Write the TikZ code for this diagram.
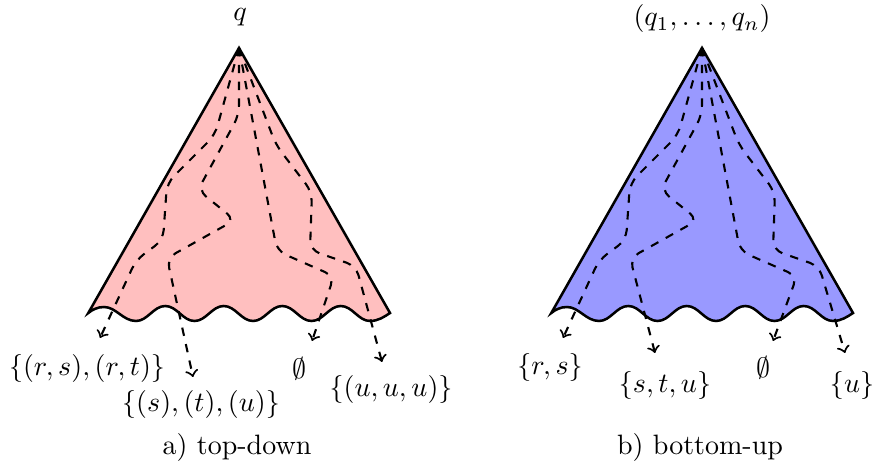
\documentclass[tikz,border=0pt]{standalone}
\begin{document}
\begin{tikzpicture}[x=0.357pt,y=-0.357pt,
  cone/.style={draw=black,line width=0.9pt,line join=miter},
  trace/.style={draw=black,dashed,line width=0.75pt,rounded corners=3.5pt,->},
  lbl/.style={inner sep=0pt}]
\useasboundingbox (0,0) rectangle (877,467);
\newcommand\drawcone[1]{%
  \path[cone,fill=#1] (88.3,313) -- (239,48) -- (390,313)
    .. controls (384,317) and (378,321) .. (370,321)
    .. controls (358.3,321) and (352.5,306) .. (340.75,306)
    .. controls (329,306) and (323.2,321) .. (311.5,321)
    .. controls (299.8,321) and (294,306) .. (282.25,306)
    .. controls (270.5,306) and (264.7,321) .. (253,321)
    .. controls (241.3,321) and (235.5,306) .. (223.75,306)
    .. controls (212,306) and (206.2,321) .. (194.5,321)
    .. controls (182.8,321) and (177,306) .. (165.25,306)
    .. controls (153.5,306) and (147.7,321) .. (136,321)
    .. controls (123,321) and (116,307) .. (104,307)
    .. controls (97,307) and (92,310) .. (88.3,313) -- cycle;}
% ---------- a) top-down ----------
\begin{scope}
  \drawcone{red!25}
  \coordinate (lapex) at (239,48);
  \coordinate (lA) at (100,338);
  \coordinate (lB) at (193,377);
  \coordinate (lC) at (312,341);
  \coordinate (lD) at (382,362);
  \draw[trace] (lapex) -- (215,135) -- (167,183) -- (163,240) -- (136,260) -- (lA);
  \draw[trace] (lapex) -- (239,115) -- (198,190) -- (235,220) -- (167,258) -- (lB);
  \draw[trace] (lapex) -- (277,251) -- (334,276) -- (lC);
  \draw[trace] (lapex) -- (276,145) -- (312,192) -- (310,250) -- (356,266) -- (lD);
  \node[lbl] (lq) at (240,17.5) {$q$};
  \node[lbl] (lt1) at (87,368) {$\{(r,s),(r,t)\}$};
  \node[lbl] (lt2) at (201,404) {$\{(s),(t),(u)\}$};
  \node[lbl] (lt3) at (299,369) {$\emptyset$};
  \node[lbl] (lt4) at (391,389) {$\{(u,u,u)\}$};
  \node[lbl] (lcap) at (237,447) {a) top-down};
\end{scope}
% ---------- b) bottom-up ----------
\begin{scope}[shift={(463,0)}]
  \drawcone{blue!40}
  \coordinate (rapex) at (239,48);
  \coordinate (rA) at (100,338);
  \coordinate (rB) at (192,353);
  \coordinate (rC) at (310,341);
  \coordinate (rD) at (382,353);
  \draw[trace] (rapex) -- (215,135) -- (167,183) -- (163,240) -- (136,260) -- (rA);
  \draw[trace] (rapex) -- (239,115) -- (198,190) -- (235,220) -- (167,258) -- (rB);
  \draw[trace] (rapex) -- (277,251) -- (334,276) -- (rC);
  \draw[trace] (rapex) -- (276,145) -- (312,192) -- (310,250) -- (356,266) -- (rD);
  \node[lbl] (rq) at (239,19) {$(q_1,\ldots,q_n)$};
  \node[lbl] (rt1) at (87,367.5) {$\{r,s\}$};
  \node[lbl] (rt2) at (202,385) {$\{s,t,u\}$};
  \node[lbl] (rt3) at (300,367.5) {$\emptyset$};
  \node[lbl] (rt4) at (389,385) {$\{u\}$};
  \node[lbl] (rcap) at (237,447) {b) bottom-up};
\end{scope}
\end{tikzpicture}
\end{document}
